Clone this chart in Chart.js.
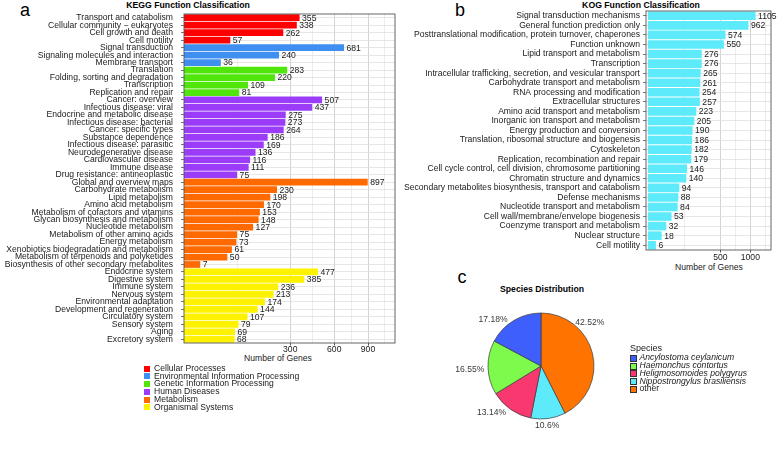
<!DOCTYPE html>
<html><head><meta charset="utf-8">
<script src="https://cdn.jsdelivr.net/npm/chart.js@4.4.1/dist/chart.umd.min.js"></script>
<style>
html,body{margin:0;padding:0;background:#fff;}
body{width:778px;height:451px;position:relative;overflow:hidden;font-family:"Liberation Sans",Arial,sans-serif;color:#1a1a1a;}
canvas{position:absolute;}
.t{position:absolute;white-space:nowrap;line-height:1;transform:translate(-50%,-50%);}
.letter{font-size:18px;color:#000;}
.ttl{font-size:8.7px;font-weight:bold;color:#000;}
.axt{font-size:8.6px;color:#1a1a1a;}
.lg{position:absolute;white-space:nowrap;line-height:1;font-size:8.6px;}
.key{position:absolute;}
</style></head><body>
<div class="t letter" style="left:25px;top:10px">a</div>
<div class="t letter" style="left:460px;top:10px">b</div>
<div class="t letter" style="left:462px;top:277px">c</div>
<div class="t ttl" style="left:188px;top:5px">KEGG Function Classification</div>
<div class="t ttl" style="left:641px;top:5px">KOG Function Classification</div>
<div class="t ttl" style="left:542px;top:289px">Species Distribution</div>
<div class="t axt" style="left:278px;top:357.5px">Number of Genes</div>
<div class="t axt" style="left:709px;top:267px">Number of Genes</div>
<canvas id="kegg" width="400" height="365" style="left:0;top:0;width:400px;height:365px"></canvas>
<canvas id="kog" width="378" height="275" style="left:400px;top:0;width:378px;height:275px"></canvas>
<canvas id="pie" width="200" height="160" style="left:441px;top:286px;width:200px;height:160px"></canvas>
<div id="keggLegend"></div>
<div id="speciesLegend"></div>
<script>
// ---------------- DATA ----------------
const keggCategories = [
  'Transport and catabolism','Cellular community \u2212 eukaryotes','Cell growth and death','Cell motility',
  'Signal transduction','Signaling molecules and interaction','Membrane transport',
  'Translation','Folding, sorting and degradation','Transcription','Replication and repair',
  'Cancer: overview','Infectious disease: viral','Endocrine and metabolic disease','Infectious disease: bacterial',
  'Cancer: specific types','Substance dependence','Infectious disease: parasitic','Neurodegenerative disease',
  'Cardiovascular disease','Immune disease','Drug resistance: antineoplastic',
  'Global and overview maps','Carbohydrate metabolism','Lipid metabolism','Amino acid metabolism',
  'Metabolism of cofactors and vitamins','Glycan biosynthesis and metabolism','Nucleotide metabolism',
  'Metabolism of other amino acids','Energy metabolism','Xenobiotics biodegradation and metabolism',
  'Metabolism of terpenoids and polyketides','Biosynthesis of other secondary metabolites',
  'Endocrine system','Digestive system','Immune system','Nervous system','Environmental adaptation',
  'Development and regeneration','Circulatory system','Sensory system','Aging','Excretory system'
];
const keggCounts = [355,338,262,57, 681,240,36, 283,220,109,81,
  507,437,275,273,264,186,169,136,116,111,75,
  897,230,198,170,153,148,127,75,73,61,50,7,
  477,385,236,213,174,144,107,79,69,68];
const keggGroupNames = ['Cellular Processes','Environmental Information Processing','Genetic Information Processing',
  'Human Diseases','Metabolism','Organismal Systems'];
const keggGroupOfCategory = [0,0,0,0, 1,1,1, 2,2,2,2, 3,3,3,3,3,3,3,3,3,3,3,
  4,4,4,4,4,4,4,4,4,4,4,4, 5,5,5,5,5,5,5,5,5,5];
const keggTickLabels = [300, 600, 900];

const kogCategories = [
  'Signal transduction mechanisms','General function prediction only',
  'Posttranslational modification, protein turnover, chaperones','Function unknown',
  'Lipid transport and metabolism','Transcription',
  'Intracellular trafficking, secretion, and vesicular transport','Carbohydrate transport and metabolism',
  'RNA processing and modification','Extracellular structures','Amino acid transport and metabolism',
  'Inorganic ion transport and metabolism','Energy production and conversion',
  'Translation, ribosomal structure and biogenesis','Cytoskeleton','Replication, recombination and repair',
  'Cell cycle control, cell division, chromosome partitioning','Chromatin structure and dynamics',
  'Secondary metabolites biosynthesis, transport and catabolism','Defense mechanisms',
  'Nucleotide transport and metabolism','Cell wall/membrane/envelope biogenesis',
  'Coenzyme transport and metabolism','Nuclear structure','Cell motility'
];
const kogCounts = [1105,962,574,550,276,276,265,261,254,257,223,205,190,186,182,179,146,140,94,88,84,53,32,18,6];
const kogTickLabels = [500, 1000];

const species = ['Ancylostoma ceylanicum','Haemonchus contortus','Heligmosomoides polygyrus',
  'Nippostrongylus brasiliensis','other'];
const speciesPercent = [17.18, 16.55, 13.14, 10.6, 42.52];

// ---------------- STYLE ----------------
const keggColors = ['#ff0000','#3f8ff0','#50e60c','#9b3cf8','#ff6a00','#fff200'];
const kogColor = '#5deafb';
const speciesColors = ['#3f5ffc','#7dfa4c','#f8386f','#5debfb','#ff7300'];
const FONT = '"Liberation Sans", Arial, sans-serif';
const TXT = '#1a1a1a';

// ---------- sqrt scale ----------
class SqrtScale extends Chart.LinearScale {
  getPixelForValue(value) {
    const o = this.options;
    const t = Math.sqrt(Math.max(0, value));
    return this.getPixelForDecimal((t - o.tmin) / (o.tmax - o.tmin));
  }
  getValueForPixel(pixel) {
    const o = this.options;
    const t = o.tmin + this.getDecimalForPixel(pixel) * (o.tmax - o.tmin);
    return t * t;
  }
}
SqrtScale.id = 'sqrt';
SqrtScale.defaults = Chart.LinearScale.defaults;
Chart.register(SqrtScale);

// grid values: major breaks plus midpoints in sqrt space
function sqrtGrid(majors, tmax) {
  const t = [0].concat(majors.map(Math.sqrt));
  const step = t[t.length-1] - t[t.length-2];
  const out = majors.slice();
  let tt = t[t.length-1];
  while (tt + step <= tmax) { tt += step; t.push(tt); out.push(tt*tt); }
  for (let i = 0; i < t.length; i++) {
    const mid = i < t.length-1 ? (t[i]+t[i+1])/2 : t[i] + step/2;
    if (mid < tmax) out.push(mid * mid);
  }
  return out.sort((a,b)=>a-b);
}

const panelBorder = {
  id: 'panelBorder',
  afterDatasetsDraw(chart) {
    const {ctx, chartArea: a} = chart;
    ctx.save();
    ctx.strokeStyle = '#555';
    ctx.lineWidth = 0.9;
    ctx.strokeRect(a.left, a.top, a.right - a.left, a.bottom - a.top);
    ctx.font = '8.6px ' + FONT;
    ctx.fillStyle = TXT;
    ctx.textBaseline = 'middle';
    ctx.textAlign = 'left';
    const meta = chart.getDatasetMeta(0);
    const data = chart.data.datasets[0].data;
    meta.data.forEach((el, i) => ctx.fillText(String(data[i]), el.x + 2.5, el.y + 0.5));
    ctx.restore();
  }
};

function barChart(id, labels, values, colors, ticksShown, tmin, tmax, yWidth, xHeight, pad, tickPad, xTickPad) {
  const grid = sqrtGrid(ticksShown, tmax);
  const isMajor = c => c.tick && ticksShown.indexOf(c.tick.value) >= 0;
  return new Chart(document.getElementById(id), {
    type: 'bar',
    data: { labels, datasets: [{ data: values, backgroundColor: colors, borderWidth: 0,
      barPercentage: 0.9, categoryPercentage: 1.0 }] },
    options: {
      indexAxis: 'y', responsive: false, animation: false, devicePixelRatio: 1,
      layout: { padding: pad },
      plugins: { legend: {display:false}, tooltip: {enabled:false} },
      scales: {
        x: {
          type: 'sqrt', position: 'bottom', min: 0, max: tmax*tmax, tmin, tmax,
          afterBuildTicks: s => { s.ticks = grid.map(v => ({value: v})); },
          afterFit: s => { s.height = xHeight; },
          border: {display:false},
          grid: {
            color: c => isMajor(c) ? '#d4d4d4' : '#e4e4e4',
            lineWidth: c => isMajor(c) ? 1 : 0.7,
            tickLength: 2.5,
            tickColor: c => isMajor(c) ? '#555' : 'rgba(0,0,0,0)'
          },
          ticks: {
            autoSkip: false, maxRotation: 0, padding: xTickPad, color: TXT,
            font: {family: FONT, size: 8.6},
            callback: v => ticksShown.indexOf(v) >= 0 ? String(v) : ''
          },
          title: { display: false }
        },
        y: {
          type: 'category', position: 'left',
          afterFit: s => { s.width = yWidth; },
          border: {display:false},
          grid: { offset: false, color: '#e0e0e0', lineWidth: 0.8, tickLength: 3, tickColor: '#555' },
          ticks: { autoSkip: false, padding: tickPad, color: TXT, font: {family: FONT, size: 8.6} }
        }
      }
    },
    plugins: [panelBorder]
  });
}

barChart('kegg', keggCategories, keggCounts, keggGroupOfCategory.map(g => keggColors[g]),
  keggTickLabels, 0, 34.4, 184, 22, {left:0, top:14, right:5, bottom:0}, 8, -1.5);
barChart('kog', kogCategories, kogCounts, kogCounts.map(() => kogColor),
  kogTickLabels, -0.6, 38.0, 246, 25, {left:0, top:11, right:7, bottom:0}, 3, 0);

// ---------- pie ----------
const pieOrder = species.map((_, i) => i).reverse();
const pieLabels = {
  id: 'pieLabels',
  afterDatasetsDraw(chart, args, opts) {
    const {ctx} = chart;
    const meta = chart.getDatasetMeta(0);
    ctx.save();
    ctx.font = '8.6px ' + FONT;
    ctx.fillStyle = '#3a3a3a';
    ctx.textAlign = 'center';
    ctx.textBaseline = 'middle';
    meta.data.forEach((arc, i) => {
      const p = opts.place[i];
      const a = (p.angle - 90) * Math.PI / 180;
      const r = arc.outerRadius * p.dist;
      ctx.fillText(chart.data.datasets[0].data[i] + '%', arc.x + r * Math.cos(a), arc.y + r * Math.sin(a));
    });
    ctx.restore();
  }
};
new Chart(document.getElementById('pie'), {
  type: 'pie',
  data: {
    labels: pieOrder.map(i => species[i]),
    datasets: [{ data: pieOrder.map(i => speciesPercent[i]),
      backgroundColor: pieOrder.map(i => speciesColors[i]),
      borderColor: '#3a3a3a', borderWidth: 0.7, hoverOffset: 0 }]
  },
  options: {
    responsive: false, animation: false, devicePixelRatio: 1, radius: 53,
    plugins: { legend: {display:false}, tooltip: {enabled:false},
      pieLabels: { place: [
        {angle: 48.6, dist: 1.227}, {angle: 174.1, dist: 1.125}, {angle: 226.7, dist: 1.283},
        {angle: 267.3, dist: 1.345}, {angle: 314.1, dist: 1.258}] } }
  },
  plugins: [pieLabels]
});

// ---------- HTML legends ----------
(function(){
  const box = document.getElementById('keggLegend');
  keggGroupNames.forEach((name, i) => {
    const y = 368.5 + i * 7.75;
    const k = document.createElement('div');
    k.className = 'key';
    k.style.cssText = `left:144px;top:${y-3}px;width:6px;height:6px;background:${keggColors[i]}`;
    box.appendChild(k);
    const t = document.createElement('div');
    t.className = 'lg';
    t.style.cssText = `left:154px;top:${y-4.6}px`;
    t.textContent = name;
    box.appendChild(t);
  });
  const sb = document.getElementById('speciesLegend');
  const ttl = document.createElement('div');
  ttl.className = 'lg';
  ttl.style.cssText = 'left:630px;top:343.5px;font-size:9px';
  ttl.textContent = 'Species';
  sb.appendChild(ttl);
  species.forEach((name, i) => {
    const y = 357.7 + i * 7.8;
    const k = document.createElement('div');
    k.className = 'key';
    k.style.cssText = `left:630px;top:${y-3}px;width:5px;height:5px;background:${speciesColors[i]};border:0.5px solid #333`;
    sb.appendChild(k);
    const t = document.createElement('div');
    t.className = 'lg';
    t.style.cssText = `left:639.5px;top:${y-4.6}px;` + (name === 'other' ? '' : 'font-style:italic');
    t.textContent = name;
    sb.appendChild(t);
  });
})();
</script>
</body></html>
